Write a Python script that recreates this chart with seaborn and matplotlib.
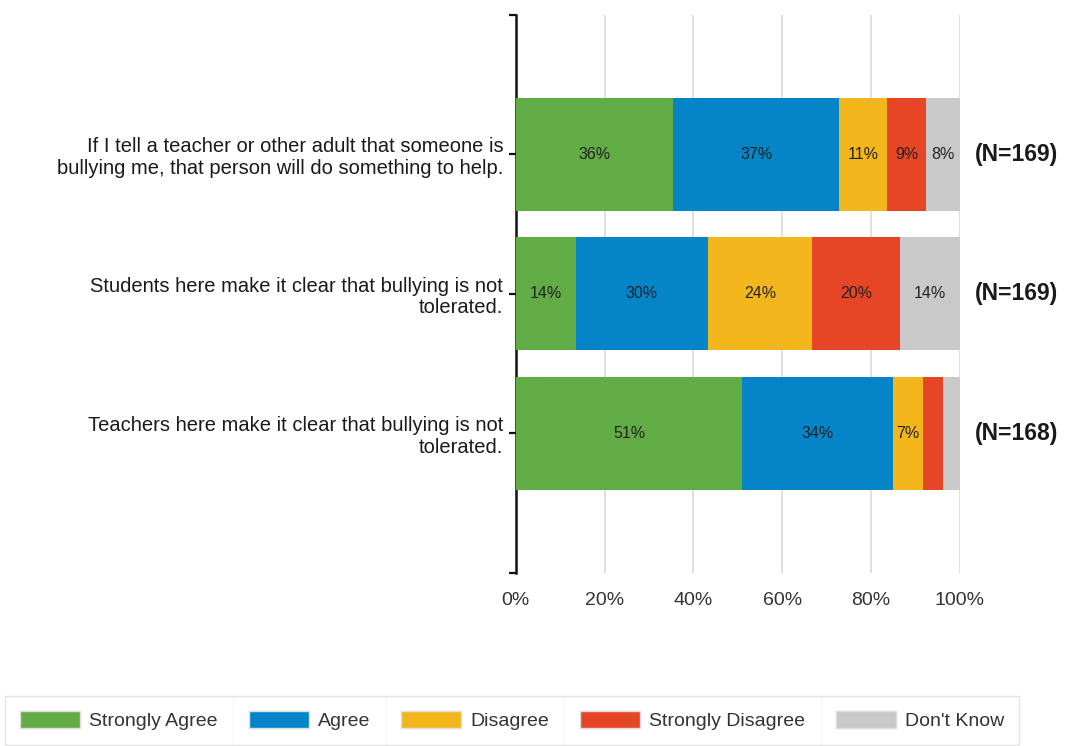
import pandas as pd
import matplotlib.pyplot as plt
import seaborn as sns
from matplotlib.lines import Line2D

# Data
questions = [
    "If I tell a teacher or other adult that someone is\nbullying me, that person will do something to help.",
    "Students here make it clear that bullying is not\ntolerated.",
    "Teachers here make it clear that bullying is not\ntolerated.",
]
responses = ["Strongly Agree", "Agree", "Disagree", "Strongly Disagree", "Don't Know"]
strongly_agree = [35.5, 13.6, 51.0]
agree = [37.3, 29.6, 33.9]
disagree = [10.7, 23.6, 6.8]
strongly_disagree = [8.9, 19.6, 4.4]
dont_know = [7.6, 13.6, 3.9]
labels_shown = [[36, 37, 11, 9, 8], [14, 30, 24, 20, 14], [51, 34, 7, None, None]]
n_counts = [169, 169, 168]

colors = ["#62AC46", "#0585C8", "#F3B71D", "#E64526", "#C9C9C9"]

df = pd.DataFrame(
    {
        "Question": questions,
        "Strongly Agree": strongly_agree,
        "Agree": agree,
        "Disagree": disagree,
        "Strongly Disagree": strongly_disagree,
        "Don't Know": dont_know,
    }
)
cum = df[responses].cumsum(axis=1)

sns.set_theme(style="white")
plt.rcParams["font.family"] = ["Liberation Sans", "DejaVu Sans"]

fig = plt.figure(figsize=(10.72, 7.46), dpi=100)
ax = fig.add_axes([0.481, 0.232, 0.4145, 0.748])

# stacked bars: draw cumulative totals from the back to the front
for resp, col in reversed(list(zip(responses, colors))):
    sns.barplot(
        x=cum[resp],
        y=df["Question"],
        orient="h",
        color=col,
        width=0.81,
        saturation=1,
        linewidth=0,
        ax=ax,
        zorder=3,
    )

# segment labels
for i in range(len(questions)):
    for j, resp in enumerate(responses):
        lab = labels_shown[i][j]
        if lab is None:
            continue
        mid = cum.loc[i, resp] - df.loc[i, resp] / 2
        ax.text(mid, i, f"{lab}%", ha="center", va="center",
                fontsize=11.5, color="#222222", zorder=4)
    ax.text(103.3, i, f"(N={n_counts[i]})", ha="left", va="center",
            fontsize=16.5, fontweight="bold", color="#1a1a1a")

ax.set_xlim(0, 100)
ax.set_ylim(3.0, -1.0)
ax.set_xticks(range(0, 101, 20))
ax.set_xticklabels([f"{v}%" for v in range(0, 101, 20)], fontsize=14, color="#333333")
ax.set_yticks([-1, 0, 1, 2, 3])
ax.set_yticklabels([""] + questions + [""], fontsize=14.5, color="#1a1a1a",
                   linespacing=1.15)
ax.set_xlabel("")
ax.set_ylabel("")

ax.xaxis.grid(True, color="#d9d9d9", linewidth=1.2, zorder=0)
ax.set_axisbelow(True)
for s in ["top", "right", "bottom"]:
    ax.spines[s].set_visible(False)
ax.spines["left"].set_color("#111111")
ax.spines["left"].set_linewidth(1.8)
ax.tick_params(axis="y", left=True, length=5, width=1.6, color="#111111", pad=4)
ax.tick_params(axis="x", length=0, pad=14)

# legend
handles = [plt.Rectangle((0, 0), 1, 1, facecolor=c, edgecolor="#dddddd") for c in colors]
leg = fig.legend(
    handles, responses,
    loc="lower left",
    bbox_to_anchor=(0.005, 0.0015),
    borderaxespad=0,
    ncol=5,
    fontsize=14,
    frameon=True,
    fancybox=False,
    edgecolor="#dddddd",
    handlelength=3.1,
    handleheight=1.0,
    handletextpad=0.45,
    columnspacing=1.6,
    borderpad=0.75,
)
for t in leg.get_texts():
    t.set_color("#333333")

# cell separators between legend entries
fig.canvas.draw()
renderer = fig.canvas.get_renderer()
frame = leg.get_frame().get_window_extent(renderer)
inv = fig.transFigure.inverted()
texts = leg.get_texts()
patches = leg.get_patches()
for k in range(1, len(patches)):
    x_end = texts[k - 1].get_window_extent(renderer).x1
    x_start = patches[k].get_window_extent(renderer).x0
    xs = (x_end + x_start) / 2
    (fx, fy0) = inv.transform((xs, frame.y0))
    (_, fy1) = inv.transform((xs, frame.y1))
    fig.add_artist(Line2D([fx, fx], [fy0, fy1], color="#dddddd", linewidth=1))

fig.savefig("out.png", dpi=100)
